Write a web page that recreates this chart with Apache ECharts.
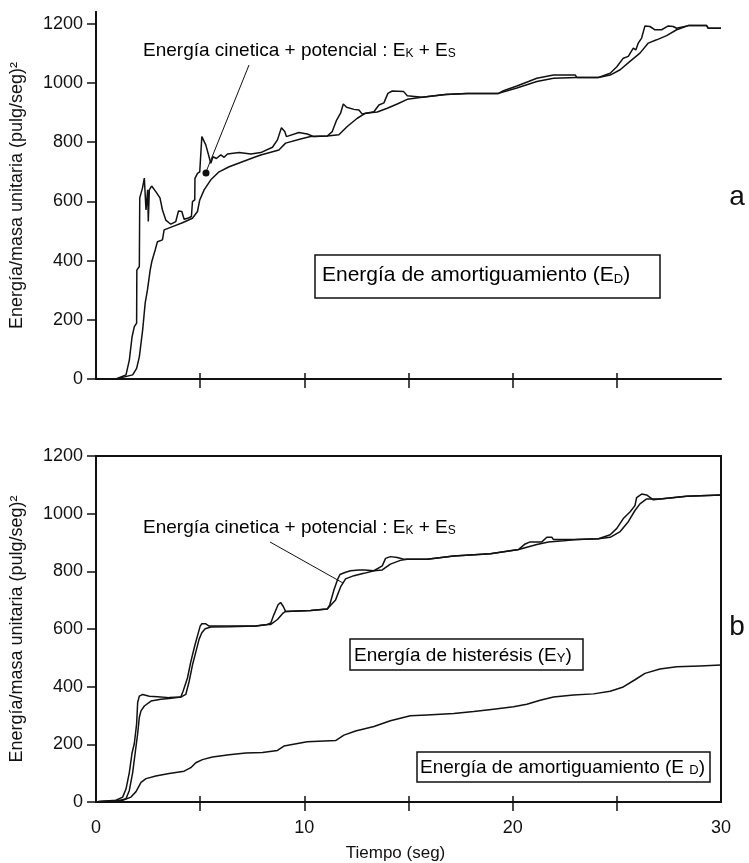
<!DOCTYPE html>
<html>
<head>
<meta charset="utf-8">
<script src="https://cdn.jsdelivr.net/npm/echarts@6/dist/echarts.min.js"></script>
<style>
  html, body { margin: 0; padding: 0; background: #fff; }
  #root { width: 749px; height: 863px; }
</style>
</head>
<body>
<div id="root"></div>
<script>
// panel a : energía de entrada (curva superior) y de amortiguamiento
const entradaA = [[0,0],[0.96,0],[1.44,14],[1.6,64],[1.73,142],[1.84,177],[1.95,189],[1.96,368],[2.08,380],[2.1,612],[2.23,645],[2.32,679],[2.4,571],[2.48,639],[2.51,532],[2.56,639],[2.67,652],[2.87,633],[3.07,612],[3.19,571],[3.35,537],[3.59,523],[3.83,532],[3.96,568],[4.12,566],[4.23,540],[4.44,544],[4.58,549],[4.63,599],[4.74,605],[4.75,678],[4.87,695],[4.98,700],[5.08,819],[5.27,791],[5.51,729],[5.62,751],[5.78,745],[5.99,757],[6.15,749],[6.31,760],[6.87,765],[7.43,760],[7.91,765],[8.47,783],[8.71,808],[8.9,849],[9.06,836],[9.14,819],[9.74,833],[10.14,828],[10.46,819],[11.1,821],[11.34,836],[11.55,875],[11.74,898],[11.87,929],[12.03,918],[12.38,911],[12.62,909],[12.78,895],[13.34,903],[13.58,926],[13.82,933],[14.01,965],[14.22,973],[14.77,971],[14.94,957],[15.65,952],[16.77,961],[17.81,965],[19.32,965],[19.56,974],[20.2,990],[20.76,1005],[21.16,1016],[21.96,1027],[23.0,1027],[23.08,1019],[24.12,1019],[24.68,1033],[25.0,1055],[25.31,1084],[25.55,1090],[25.79,1118],[25.91,1112],[26.03,1135],[26.19,1152],[26.35,1193],[26.59,1191],[26.83,1180],[27.15,1180],[27.47,1193],[27.71,1191],[27.87,1185],[28.43,1194],[29.31,1194],[29.39,1185],[30,1185]];
const amortA = [[0,0],[1.04,2],[1.76,14],[1.95,36],[2.08,75],[2.24,166],[2.36,256],[2.47,301],[2.6,368],[2.68,397],[2.84,436],[2.95,464],[3.19,470],[3.27,504],[3.67,515],[4.15,528],[4.63,543],[4.87,566],[4.98,605],[5.19,639],[5.51,673],[5.91,700],[6.39,717],[7.03,734],[7.67,751],[7.91,757],[8.78,774],[9.1,797],[9.82,811],[10.3,819],[11.1,821],[11.66,825],[12.06,853],[12.54,881],[12.94,898],[13.5,902],[13.98,915],[14.46,929],[14.94,945],[15.65,952],[16.77,961],[17.81,965],[19.32,965],[20.2,983],[21.16,1005],[21.96,1016],[23.08,1019],[24.12,1019],[24.68,1027],[25.16,1045],[25.63,1073],[26.11,1101],[26.51,1135],[26.91,1146],[27.39,1160],[27.87,1180],[28.43,1194],[29.31,1194],[29.39,1185],[30,1185]];

// panel b : entrada, histéresis + amortiguamiento, amortiguamiento
const entradaB = [[0,0],[0.16,2],[0.96,6],[1.28,17],[1.44,45],[1.6,102],[1.73,170],[1.84,203],[1.95,271],[2.0,345],[2.08,367],[2.24,373],[2.56,367],[2.95,365],[3.51,362],[4.07,364],[4.18,384],[4.39,430],[4.55,486],[4.74,542],[4.87,576],[5.0,610],[5.08,618],[5.27,618],[5.43,610],[6.39,610],[7.67,610],[8.23,616],[8.39,621],[8.54,650],[8.74,684],[8.86,692],[8.99,678],[9.1,661],[10.3,664],[11.1,669],[11.22,684],[11.42,735],[11.61,774],[11.71,789],[11.98,797],[12.22,802],[12.62,805],[12.89,805],[13.34,802],[13.74,819],[13.9,845],[14.13,851],[14.46,848],[14.77,842],[15.89,842],[17.17,853],[18.93,861],[19.73,870],[20.29,876],[20.6,895],[20.84,902],[21.4,902],[21.64,918],[21.88,918],[21.96,910],[23.08,910],[24.12,913],[24.68,927],[25.0,949],[25.31,983],[25.63,1006],[25.87,1028],[25.95,1056],[26.19,1068],[26.43,1065],[26.75,1048],[27.07,1051],[28.35,1060],[30,1065]];
const histeresisB = [[0,0],[0.96,2],[1.44,11],[1.6,40],[1.76,102],[1.88,170],[2.0,237],[2.08,294],[2.16,316],[2.32,333],[2.64,350],[3.11,356],[3.51,359],[4.07,364],[4.31,373],[4.47,418],[4.63,475],[4.79,520],[4.95,565],[5.08,587],[5.24,601],[5.51,607],[6.39,608],[7.67,610],[8.23,616],[8.39,616],[8.71,633],[8.95,653],[9.1,661],[10.3,664],[11.1,669],[11.5,701],[11.74,746],[11.98,774],[12.38,785],[12.86,793],[13.34,802],[13.74,805],[14.13,825],[14.61,838],[14.94,842],[15.89,842],[17.17,853],[18.93,861],[19.73,870],[20.29,876],[21.16,893],[21.72,902],[22.44,906],[23.08,910],[24.12,913],[24.68,918],[25.16,938],[25.55,972],[25.87,1011],[26.11,1034],[26.43,1051],[27.07,1051],[28.35,1060],[30,1065]];
const amortB = [[0,0],[0.16,2],[1.28,6],[1.68,17],[1.92,36],[2.16,68],[2.4,81],[2.87,90],[3.51,99],[4.23,107],[4.55,119],[4.79,136],[5.11,147],[5.59,156],[6.39,164],[7.19,170],[7.99,172],[8.71,179],[9.02,194],[10.14,209],[11.5,213],[11.9,232],[12.46,246],[13.34,262],[14.13,282],[15.09,299],[15.89,302],[17.17,307],[18.13,314],[19.08,322],[20.04,330],[20.68,339],[21.32,353],[21.96,364],[22.92,371],[23.88,375],[24.68,384],[25.31,399],[25.87,424],[26.35,446],[27.07,461],[27.87,469],[28.98,472],[30,475]];

const yTicks = [0, 200, 400, 600, 800, 1000, 1200];
const xTicks = [5, 10, 15, 20, 25];
const xLabels = [0, 10, 20, 30];

const FONT = 'Liberation Sans, Arial, sans-serif';
const INK = '#111';

const chart = echarts.init(document.getElementById('root'));

function yAxisFor(grid, max) {
  return {
    type: 'value', gridIndex: grid, min: 0, max: max,
    name: 'Energía/masa unitaria (pulg/seg)²',
    nameLocation: 'middle', nameRotate: 90, nameGap: 70,
    nameTextStyle: { fontFamily: FONT, fontSize: 18, color: INK },
    splitLine: { show: false },
    axisLine: { show: true, lineStyle: { color: INK, width: 2 } },
    axisTick: { show: true, length: 9, customValues: yTicks, lineStyle: { color: INK, width: 1.5 } },
    axisLabel: { customValues: yTicks, margin: 13, fontFamily: FONT, fontSize: 18, color: INK,
      formatter: (v) => String(v) }
  };
}

function sideAxis(grid, max) {
  return {
    type: 'value', gridIndex: grid, position: 'right', min: 0, max: max,
    splitLine: { show: false },
    axisLine: { show: true, lineStyle: { color: INK, width: 2 } },
    axisTick: { show: false }, axisLabel: { show: false }
  };
}

function xAxisPair(grid, withLabels) {
  return [{
    type: 'value', gridIndex: grid, min: 0, max: 30,
    splitLine: { show: false },
    axisLine: { show: true, lineStyle: { color: INK, width: 2 } },
    axisTick: { show: true, length: 9, customValues: xTicks, lineStyle: { color: INK, width: 1.5 } },
    axisLabel: withLabels
      ? { customValues: xLabels, margin: 17, fontFamily: FONT, fontSize: 18, color: INK,
          formatter: (v) => String(v) }
      : { show: false },
    name: withLabels ? 'Tiempo (seg)' : '',
    nameLocation: 'middle', nameGap: 43,
    nameTextStyle: { fontFamily: FONT, fontSize: 17, color: INK, padding: [0, 26, 0, 0] }
  }, {
    type: 'value', gridIndex: grid, min: 0, max: 30, position: 'bottom',
    splitLine: { show: false },
    axisLine: { show: false },
    axisTick: { show: true, inside: true, length: 6, customValues: xTicks, lineStyle: { color: INK, width: 1.5 } },
    axisLabel: { show: false }
  }];
}

function curve(data, xi, yi) {
  return {
    type: 'line', data: data, xAxisIndex: xi, yAxisIndex: yi,
    showSymbol: false, symbol: 'none',
    lineStyle: { color: INK, width: 1.5 }
  };
}

const small = { fontFamily: FONT, fontSize: 12, color: '#666', verticalAlign: 'bottom', lineHeight: 20 };
const big = (s) => ({ fontFamily: FONT, fontSize: s, color: INK, verticalAlign: 'bottom', lineHeight: 20 });

function label(x, y, text, size) {
  return {
    type: 'text', x: x, y: y, silent: true,
    style: { text: text, verticalAlign: 'middle', align: 'left',
      rich: { a: big(size), s: small, d: Object.assign({}, small, { color: INK, fontSize: 13 }) } }
  };
}

function box(x, y, w, h) {
  return { type: 'rect', shape: { x: x, y: y, width: w, height: h }, silent: true,
    style: { fill: 'none', stroke: INK, lineWidth: 1.5 } };
}

function pointer(x1, y1, x2, y2) {
  return { type: 'line', shape: { x1: x1, y1: y1, x2: x2, y2: y2 }, silent: true,
    style: { stroke: INK, lineWidth: 1 } };
}

const ecText = '{a|Energía cinetica + potencial : E}{s|K}{a| + E}{s|S}';

const option = {
  animation: false,
  backgroundColor: '#fff',
  grid: [
    { left: 95, right: 28, top: 12, height: 367 },
    { left: 95, right: 28, top: 456, height: 354, show: true, borderColor: INK, borderWidth: 2 }
  ],
  xAxis: [].concat(xAxisPair(0, false), xAxisPair(1, true)),
  yAxis: [yAxisFor(0, 1240), sideAxis(0, 1240), yAxisFor(1, 1200)],
  series: [
    curve(entradaA, 0, 0),
    curve(amortA, 0, 0),
    curve(entradaB, 2, 2),
    curve(histeresisB, 2, 2),
    curve(amortB, 2, 2)
  ],
  graphic: [
    // panel a
    label(143, 50, ecText, 19),
    pointer(249, 65, 206, 172),
    { type: 'circle', shape: { cx: 206, cy: 173, r: 3.5 }, silent: true, style: { fill: INK } },
    box(315, 255, 345, 43),
    label(322, 276, '{a|Energía de amortiguamiento (E}{d|D}{a|)}', 21),
    { type: 'text', x: 737, y: 197, silent: true,
      style: { text: 'a', font: '28px ' + FONT, fill: INK, align: 'center', verticalAlign: 'middle' } },
    // panel b
    label(143, 527, ecText, 19),
    pointer(270, 542, 343, 583),
    box(350, 639, 233, 31),
    label(354, 655, '{a|Energía de histerésis (E}{d|Y}{a|)}', 19),
    box(417, 752, 293, 30),
    label(420, 767, '{a|Energía de amortiguamiento (E }{d|D}{a|)}', 19),
    { type: 'text', x: 737, y: 627, silent: true,
      style: { text: 'b', font: '28px ' + FONT, fill: INK, align: 'center', verticalAlign: 'middle' } }
  ]
};

chart.setOption(option);
</script>
</body>
</html>
